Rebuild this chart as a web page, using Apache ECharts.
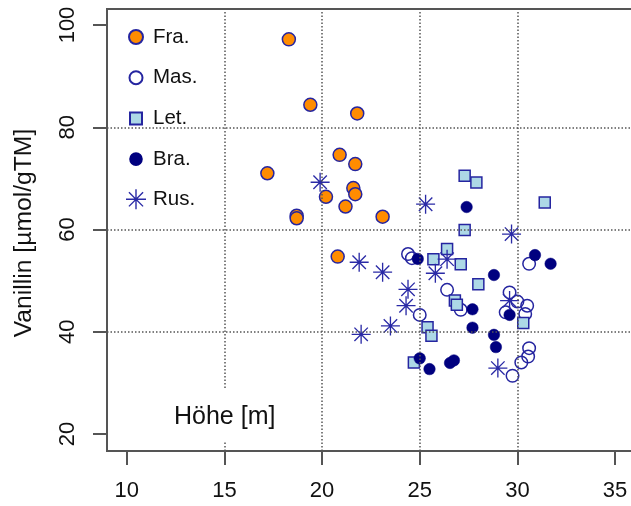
<!DOCTYPE html>
<html><head><meta charset="utf-8">
<script src="https://cdn.jsdelivr.net/npm/echarts@6/dist/echarts.min.js"></script>
<style>html,body{margin:0;padding:0;background:#fff}#c{width:631px;height:506px}</style>
</head><body><div id="c"></div>
<script>
// ---- data ----
const groupNames = ['Fra.', 'Mas.', 'Let.', 'Bra.', 'Rus.'];
const fraX = [18.3, 19.4, 21.8, 20.9, 21.7, 17.2, 21.6, 21.7, 20.2, 21.2, 18.7, 18.7, 23.1, 20.8];
const fraY = [97.2, 84.4, 82.7, 74.6, 72.8, 71.0, 68.1, 66.9, 66.4, 64.5, 62.7, 62.2, 62.5, 54.7];
const masX = [24.4, 24.6, 26.4, 25.0, 27.1, 30.6, 29.6, 30.0, 30.5, 29.4, 30.4, 30.6, 30.55, 30.2, 29.75];
const masY = [55.2, 54.4, 48.2, 43.3, 44.3, 53.3, 47.7, 45.9, 45.1, 43.8, 43.5, 36.8, 35.15, 34.0, 31.4];
const letX = [27.3, 27.9, 31.4, 27.3, 26.4, 25.7, 27.1, 28.0, 26.8, 26.9, 30.3, 25.4, 25.6, 24.7];
const letY = [70.5, 69.2, 65.3, 59.9, 56.2, 54.2, 53.2, 49.3, 46.1, 45.3, 41.7, 40.9, 39.2, 34.0];
const braX = [27.4, 24.9, 30.9, 31.7, 28.8, 27.7, 29.6, 27.7, 28.8, 28.9, 26.55, 26.75, 25.0, 25.5];
const braY = [64.4, 54.25, 55.0, 53.3, 51.1, 44.4, 43.3, 40.8, 39.4, 37.0, 33.9, 34.4, 34.8, 32.7];
const rusX = [19.9, 25.3, 29.7, 21.9, 23.1, 25.8, 26.4, 24.4, 24.3, 23.5, 22.0, 29.0, 29.6];
const rusY = [69.25, 64.95, 59.1, 53.6, 51.65, 51.45, 54.2, 48.3, 45.1, 41.15, 39.5, 32.9, 46.1];
const xTicks = [10, 15, 20, 25, 30, 35];
const yTicks = [20, 40, 60, 80, 100];
const gridX = [15, 20, 25, 30];
const gridY = [40, 60, 80];
const xTitle = 'Höhe [m]';
const yTitle = 'Vanillin [µmol/gTM]';

// ---- styling ----
const FONT = '"Liberation Sans", Arial, sans-serif';
const OUT = '#2525a0';
const STAR = 'path://M0,9.3L20,9.3L20,10.7L0,10.7Z M9.3,0L10.7,0L10.7,20L9.3,20Z M3.43,2.44L17.57,16.58L16.58,17.57L2.44,3.43Z M16.58,2.44L17.57,3.43L3.43,17.57L2.44,16.58Z';
const legendIcons = [
  'path://M0,0M20,20M3,10A7,7,0,1,1,17,10A7,7,0,1,1,3,10Z',
  'path://M0,0M20,20M3.5,10A6.5,6.5,0,1,1,16.5,10A6.5,6.5,0,1,1,3.5,10Z',
  'path://M0,0M20,20M4,4L16,4L16,16L4,16Z',
  'path://M0,0M20,20M4.2,10A5.8,5.8,0,1,1,15.8,10A5.8,5.8,0,1,1,4.2,10Z',
  STAR
];
const zip = (xs, ys) => xs.map((x, i) => [x, ys[i]]);

const chart = echarts.init(document.getElementById('c'), null, {renderer: 'canvas'});
chart.setOption({
  animation: false,
  backgroundColor: '#fff',
  textStyle: {fontFamily: FONT},
  grid: {left: 107, top: 9, right: -12, bottom: 55, containLabel: false, outerBoundsMode: 'none',
         show: true, borderColor: '#555', borderWidth: 2, backgroundColor: 'transparent'},
  title: {
    text: xTitle, left: 159, top: 388, padding: [17, 15, 12, 15], backgroundColor: '#fff',
    textStyle: {fontSize: 25, fontWeight: 'normal', color: '#111', fontFamily: FONT}
  },
  legend: {
    orient: 'vertical', left: 108.5, top: 10.5, selectedMode: false,
    data: groupNames.map((n, i) => ({name: n, icon: legendIcons[i]})),
    itemWidth: 20, itemHeight: 20, itemGap: 18.7,
    padding: [15.5, 30, 9, 16.5], backgroundColor: '#fff',
    textStyle: {fontSize: 20.5, color: '#111', fontFamily: FONT, lineHeight: 20, padding: [0, 0, 0, 2]}
  },
  xAxis: {
    type: 'value', min: 8.99, max: 36.43,
    axisLine: {show: false},
    splitLine: {show: false},
    axisTick: {show: true, length: 14, lineStyle: {color: '#555', width: 2}, customValues: xTicks},
    axisLabel: {fontSize: 22, color: '#111', margin: 29, fontFamily: FONT, customValues: xTicks}
  },
  yAxis: {
    type: 'value', min: 16.68, max: 103.13,
    name: yTitle, nameLocation: 'middle', nameGap: 70, nameRotate: 90,
    nameTextStyle: {fontSize: 24.7, color: '#111', fontFamily: FONT, padding: [0, 6, 0, 0]},
    axisLine: {show: false},
    splitLine: {show: false},
    axisTick: {show: true, length: 14, lineStyle: {color: '#555', width: 2}, customValues: yTicks},
    axisLabel: {fontSize: 22, color: '#111', margin: 28, rotate: 90, fontFamily: FONT, customValues: yTicks}
  },
  series: [
    {
      type: 'scatter', data: [], silent: true, z: 1,
      markLine: {
        silent: true, symbol: 'none', label: {show: false}, animation: false,
        lineStyle: {color: '#555', width: 1.5, type: [1.5, 2]},
        emphasis: {disabled: true},
        data: [...gridX.map(v => ({xAxis: v})), ...gridY.map(v => ({yAxis: v}))]
      }
    },
    {name: groupNames[0], type: 'scatter', symbol: 'circle', symbolSize: 13, data: zip(fraX, fraY),
     itemStyle: {color: '#FF8C00', borderColor: OUT, borderWidth: 1.5, opacity: 1}},
    {name: groupNames[1], type: 'scatter', symbol: 'circle', symbolSize: 12.5, data: zip(masX, masY),
     itemStyle: {color: 'rgba(255,255,255,0)', borderColor: OUT, borderWidth: 1.5, opacity: 1}},
    {name: groupNames[2], type: 'scatter', symbol: 'rect', symbolSize: 11, data: zip(letX, letY),
     itemStyle: {color: '#ADD8E6', borderColor: OUT, borderWidth: 1.5, opacity: 1}},
    {name: groupNames[3], type: 'scatter', symbol: 'circle', symbolSize: 11.5, data: zip(braX, braY),
     itemStyle: {color: '#00007f', borderColor: '#00007f', borderWidth: 0.5, opacity: 1}},
    {name: groupNames[4], type: 'scatter', symbol: STAR, symbolSize: 19, data: zip(rusX, rusY),
     itemStyle: {color: '#2a2aa6', opacity: 1}}
  ]
});
</script>
</body></html>
